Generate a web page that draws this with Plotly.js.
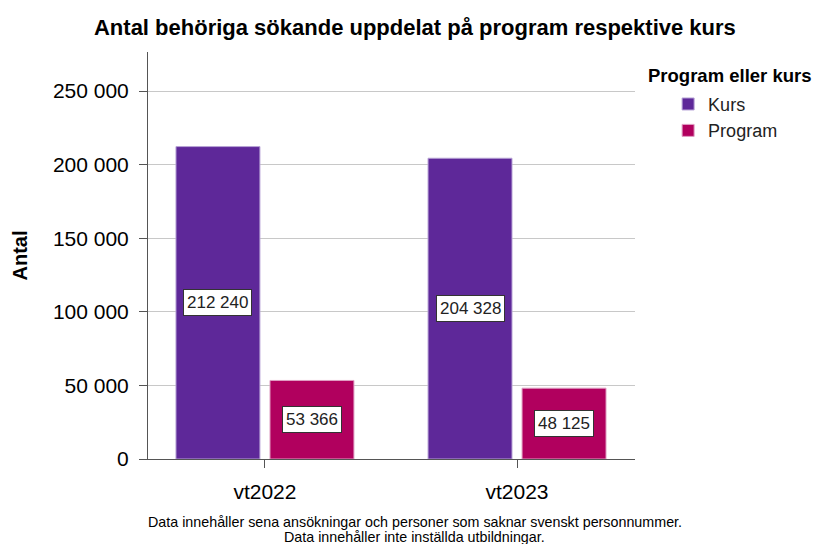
<!DOCTYPE html>
<html><head><meta charset="utf-8">
<script src="https://cdn.plot.ly/plotly-3.0.1.min.js"></script>
<style>html,body{margin:0;padding:0;background:#fff}#chart{width:820px;height:544px}</style>
</head><body><div id="chart"></div>
<script>
const categories = ["vt2022", "vt2023"];
const kurs = [212240, 204328];
const program = [53366, 48125];
const seriesNames = ["Kurs", "Program"];
const legendTitle = "Program eller kurs";
const yTicks = [0, 50000, 100000, 150000, 200000, 250000];
const footnotes = ["Data innehåller sena ansökningar och personer som saknar svenskt personnummer.", "Data innehåller inte inställda utbildningar."];

const colors = ["#5e2899", "#b1005e"];
const edges = ["#b8a3d6", "#e0a0c4"];
const font = "Liberation Sans, Arial, sans-serif";
const fmt = v => String(v).replace(/\B(?=(\d{3})+(?!\d))/g, " ");

const traces = [kurs, program].map((vals, i) => ({
  type: "bar", name: seriesNames[i], x: categories, y: vals,
  marker: {color: colors[i], line: {color: edges[i], width: 1}},
  hoverinfo: "skip"
}));

const annotations = [];
[kurs, program].forEach((vals, s) => {
  vals.forEach((v, c) => {
    annotations.push({
      x: c + (s === 0 ? -0.1865 : 0.1865), y: v / 2, xref: "x", yref: "y",
      text: fmt(v), showarrow: false,
      font: {family: font, size: 17, color: "#222"},
      bgcolor: "#fff", bordercolor: "#333", borderwidth: 1, borderpad: 3
    });
  });
});
footnotes.forEach((t, i) => {
  annotations.push({
    x: 0.5, y: 0, xref: "paper", yref: "paper", yshift: -63 - 14.5 * i, xshift: 23,
    xanchor: "center", yanchor: "middle", showarrow: false, text: t,
    font: {family: font, size: 14.3, color: "#000"}
  });
});
annotations.push({
  x: 1, y: 1, xref: "paper", yref: "paper", xshift: 11, yshift: -23,
  xanchor: "left", yanchor: "middle", showarrow: false,
  text: "<b>" + legendTitle + "</b>", font: {family: font, size: 18.5, color: "#000"}
});

const layout = {
  width: 820, height: 544,
  margin: {l: 148, r: 185, t: 52, b: 85},
  paper_bgcolor: "#fff", plot_bgcolor: "#fff",
  title: {text: "<b>Antal behöriga sökande uppdelat på program respektive kurs</b>",
          font: {family: font, size: 22, color: "#000"}, x: 0.506, xanchor: "center", y: 0.95, yanchor: "middle"},
  bargap: 0.254, bargroupgap: 0.107,
  xaxis: {type: "category", range: [-0.464, 1.468], showline: true, linecolor: "#555", linewidth: 1,
          ticks: "outside", ticklen: 8, tickcolor: "#555", tickfont: {family: font, size: 21, color: "#000"},
          ticklabelstandoff: 6, showgrid: false, zeroline: false, fixedrange: true},
  yaxis: {range: [0, 276500], tickvals: yTicks, ticktext: yTicks.map(fmt), showline: true, linecolor: "#555", linewidth: 1,
          ticks: "outside", ticklen: 8, tickcolor: "#555", tickfont: {family: font, size: 21, color: "#000"},
          ticklabelstandoff: 6,
          showgrid: true, gridcolor: "#c8c8c8", gridwidth: 1, zeroline: false,
          title: {text: "<b>Antal</b>", font: {family: font, size: 20, color: "#000"}, standoff: 19}},
  legend: {x: 1.068, y: 0.917, xanchor: "left", yanchor: "top",
           font: {family: font, size: 18, color: "#222"}, tracegroupgap: 0, itemwidth: 30, bgcolor: "rgba(0,0,0,0)"},
  annotations: annotations,
  showlegend: true
};
Plotly.newPlot("chart", traces, layout, {displayModeBar: false, staticPlot: true});
</script></body></html>
